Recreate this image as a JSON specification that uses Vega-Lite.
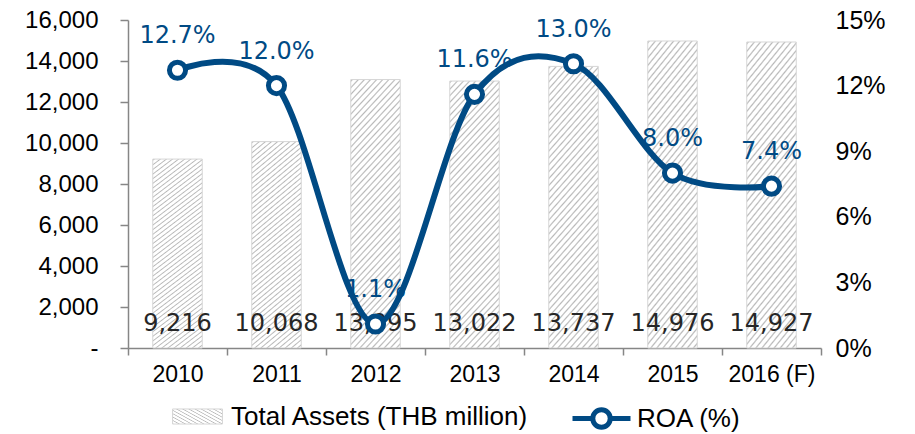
{
  "$schema": "https://vega.github.io/schema/vega-lite/v6.json",
  "width": 693,
  "height": 328,
  "autosize": {"type": "none"},
  "padding": {"left": 128, "top": 20, "right": 94, "bottom": 86},
  "background": "#ffffff",
  "config": {
    "view": {"stroke": null},
    "axis": {"labelFont": "Liberation Sans", "labelColor": "#000000", "grid": false, "title": null},
    "legend": {"labelFont": "Liberation Sans", "labelLimit": 400}
  },
  "data": {
    "values": [
      {"year": "2010", "assets": 9216, "roa": 0.127},
      {"year": "2011", "assets": 10068, "roa": 0.120},
      {"year": "2012", "assets": 13095, "roa": 0.011},
      {"year": "2013", "assets": 13022, "roa": 0.116},
      {"year": "2014", "assets": 13737, "roa": 0.130},
      {"year": "2015", "assets": 14976, "roa": 0.080},
      {"year": "2016 (F)", "assets": 14927, "roa": 0.074}
    ]
  },
  "encoding": {
    "x": {
      "field": "year", "type": "nominal", "sort": null,
      "scale": {"paddingInner": 0, "paddingOuter": 0},
      "axis": {"labelAngle": 0, "labelFontSize": 23, "domainColor": "#868686", "domainWidth": 1.5, "tickColor": "#868686", "tickWidth": 1.5, "tickSize": 7, "tickBand": "extent", "labelPadding": 8}
    }
  },
  "layer": [
    {
      "layer": [
        {
          "mark": {
            "type": "bar",
            "width": {"band": 0.5},
            "strokeWidth": 1,
            "fill": {
              "gradient": "linear", "x1": 0, "y1": 0, "x2": 0.235, "y2": 1.18,
              "stops": [
                {"offset": 0, "color": "#ffffff"}, {"offset": 0.005, "color": "#b8b8b8"}, {"offset": 0.01, "color": "#ffffff"},
                {"offset": 0.02, "color": "#ffffff"}, {"offset": 0.025, "color": "#b8b8b8"}, {"offset": 0.03, "color": "#ffffff"},
                {"offset": 0.04, "color": "#ffffff"}, {"offset": 0.045, "color": "#b8b8b8"}, {"offset": 0.05, "color": "#ffffff"},
                {"offset": 0.06, "color": "#ffffff"}, {"offset": 0.065, "color": "#b8b8b8"}, {"offset": 0.07, "color": "#ffffff"},
                {"offset": 0.08, "color": "#ffffff"}, {"offset": 0.085, "color": "#b8b8b8"}, {"offset": 0.09, "color": "#ffffff"},
                {"offset": 0.1, "color": "#ffffff"}, {"offset": 0.105, "color": "#b8b8b8"}, {"offset": 0.11, "color": "#ffffff"},
                {"offset": 0.12, "color": "#ffffff"}, {"offset": 0.125, "color": "#b8b8b8"}, {"offset": 0.13, "color": "#ffffff"},
                {"offset": 0.14, "color": "#ffffff"}, {"offset": 0.145, "color": "#b8b8b8"}, {"offset": 0.15, "color": "#ffffff"},
                {"offset": 0.16, "color": "#ffffff"}, {"offset": 0.165, "color": "#b8b8b8"}, {"offset": 0.17, "color": "#ffffff"},
                {"offset": 0.18, "color": "#ffffff"}, {"offset": 0.185, "color": "#b8b8b8"}, {"offset": 0.19, "color": "#ffffff"},
                {"offset": 0.2, "color": "#ffffff"}, {"offset": 0.205, "color": "#b8b8b8"}, {"offset": 0.21, "color": "#ffffff"},
                {"offset": 0.22, "color": "#ffffff"}, {"offset": 0.225, "color": "#b8b8b8"}, {"offset": 0.23, "color": "#ffffff"},
                {"offset": 0.24, "color": "#ffffff"}, {"offset": 0.245, "color": "#b8b8b8"}, {"offset": 0.25, "color": "#ffffff"},
                {"offset": 0.26, "color": "#ffffff"}, {"offset": 0.265, "color": "#b8b8b8"}, {"offset": 0.27, "color": "#ffffff"},
                {"offset": 0.28, "color": "#ffffff"}, {"offset": 0.285, "color": "#b8b8b8"}, {"offset": 0.29, "color": "#ffffff"},
                {"offset": 0.3, "color": "#ffffff"}, {"offset": 0.305, "color": "#b8b8b8"}, {"offset": 0.31, "color": "#ffffff"},
                {"offset": 0.32, "color": "#ffffff"}, {"offset": 0.325, "color": "#b8b8b8"}, {"offset": 0.33, "color": "#ffffff"},
                {"offset": 0.34, "color": "#ffffff"}, {"offset": 0.345, "color": "#b8b8b8"}, {"offset": 0.35, "color": "#ffffff"},
                {"offset": 0.36, "color": "#ffffff"}, {"offset": 0.365, "color": "#b8b8b8"}, {"offset": 0.37, "color": "#ffffff"},
                {"offset": 0.38, "color": "#ffffff"}, {"offset": 0.385, "color": "#b8b8b8"}, {"offset": 0.39, "color": "#ffffff"},
                {"offset": 0.4, "color": "#ffffff"}, {"offset": 0.405, "color": "#b8b8b8"}, {"offset": 0.41, "color": "#ffffff"},
                {"offset": 0.42, "color": "#ffffff"}, {"offset": 0.425, "color": "#b8b8b8"}, {"offset": 0.43, "color": "#ffffff"},
                {"offset": 0.44, "color": "#ffffff"}, {"offset": 0.445, "color": "#b8b8b8"}, {"offset": 0.45, "color": "#ffffff"},
                {"offset": 0.46, "color": "#ffffff"}, {"offset": 0.465, "color": "#b8b8b8"}, {"offset": 0.47, "color": "#ffffff"},
                {"offset": 0.48, "color": "#ffffff"}, {"offset": 0.485, "color": "#b8b8b8"}, {"offset": 0.49, "color": "#ffffff"},
                {"offset": 0.5, "color": "#ffffff"}, {"offset": 0.505, "color": "#b8b8b8"}, {"offset": 0.51, "color": "#ffffff"},
                {"offset": 0.52, "color": "#ffffff"}, {"offset": 0.525, "color": "#b8b8b8"}, {"offset": 0.53, "color": "#ffffff"},
                {"offset": 0.54, "color": "#ffffff"}, {"offset": 0.545, "color": "#b8b8b8"}, {"offset": 0.55, "color": "#ffffff"},
                {"offset": 0.56, "color": "#ffffff"}, {"offset": 0.565, "color": "#b8b8b8"}, {"offset": 0.57, "color": "#ffffff"},
                {"offset": 0.58, "color": "#ffffff"}, {"offset": 0.585, "color": "#b8b8b8"}, {"offset": 0.59, "color": "#ffffff"},
                {"offset": 0.6, "color": "#ffffff"}, {"offset": 0.605, "color": "#b8b8b8"}, {"offset": 0.61, "color": "#ffffff"},
                {"offset": 0.62, "color": "#ffffff"}, {"offset": 0.625, "color": "#b8b8b8"}, {"offset": 0.63, "color": "#ffffff"},
                {"offset": 0.64, "color": "#ffffff"}, {"offset": 0.645, "color": "#b8b8b8"}, {"offset": 0.65, "color": "#ffffff"},
                {"offset": 0.66, "color": "#ffffff"}, {"offset": 0.665, "color": "#b8b8b8"}, {"offset": 0.67, "color": "#ffffff"},
                {"offset": 0.68, "color": "#ffffff"}, {"offset": 0.685, "color": "#b8b8b8"}, {"offset": 0.69, "color": "#ffffff"},
                {"offset": 0.7, "color": "#ffffff"}, {"offset": 0.705, "color": "#b8b8b8"}, {"offset": 0.71, "color": "#ffffff"},
                {"offset": 0.72, "color": "#ffffff"}, {"offset": 0.725, "color": "#b8b8b8"}, {"offset": 0.73, "color": "#ffffff"},
                {"offset": 0.74, "color": "#ffffff"}, {"offset": 0.745, "color": "#b8b8b8"}, {"offset": 0.75, "color": "#ffffff"},
                {"offset": 0.76, "color": "#ffffff"}, {"offset": 0.765, "color": "#b8b8b8"}, {"offset": 0.77, "color": "#ffffff"},
                {"offset": 0.78, "color": "#ffffff"}, {"offset": 0.785, "color": "#b8b8b8"}, {"offset": 0.79, "color": "#ffffff"},
                {"offset": 0.8, "color": "#ffffff"}, {"offset": 0.805, "color": "#b8b8b8"}, {"offset": 0.81, "color": "#ffffff"},
                {"offset": 0.82, "color": "#ffffff"}, {"offset": 0.825, "color": "#b8b8b8"}, {"offset": 0.83, "color": "#ffffff"},
                {"offset": 0.84, "color": "#ffffff"}, {"offset": 0.845, "color": "#b8b8b8"}, {"offset": 0.85, "color": "#ffffff"},
                {"offset": 0.86, "color": "#ffffff"}, {"offset": 0.865, "color": "#b8b8b8"}, {"offset": 0.87, "color": "#ffffff"},
                {"offset": 0.88, "color": "#ffffff"}, {"offset": 0.885, "color": "#b8b8b8"}, {"offset": 0.89, "color": "#ffffff"},
                {"offset": 0.9, "color": "#ffffff"}, {"offset": 0.905, "color": "#b8b8b8"}, {"offset": 0.91, "color": "#ffffff"},
                {"offset": 0.92, "color": "#ffffff"}, {"offset": 0.925, "color": "#b8b8b8"}, {"offset": 0.93, "color": "#ffffff"},
                {"offset": 0.94, "color": "#ffffff"}, {"offset": 0.945, "color": "#b8b8b8"}, {"offset": 0.95, "color": "#ffffff"},
                {"offset": 0.96, "color": "#ffffff"}, {"offset": 0.965, "color": "#b8b8b8"}, {"offset": 0.97, "color": "#ffffff"},
                {"offset": 0.98, "color": "#ffffff"}, {"offset": 0.985, "color": "#b8b8b8"}, {"offset": 0.99, "color": "#ffffff"},
                {"offset": 1, "color": "#ffffff"}
              ]
            }
          },
          "encoding": {
            "y": {
              "field": "assets", "type": "quantitative", "scale": {"domain": [0, 16000]},
              "axis": {
                "orient": "left",
                "values": [0, 2000, 4000, 6000, 8000, 10000, 12000, 14000, 16000],
                "labelExpr": "datum.value == 0 ? '-' : format(datum.value, ',')",
                "labelFontSize": 24, "tickSize": 8, "labelPadding": 22,
                "domainColor": "#868686", "domainWidth": 1.5, "tickColor": "#868686", "tickWidth": 1.5
              }
            },
            "stroke": {
              "datum": "Total Assets (THB million)", "type": "nominal",
              "scale": {"domain": ["Total Assets (THB million)"], "range": ["#d6d6d6"]},
              "legend": {
                "title": null, "orient": "none", "direction": "horizontal",
                "legendX": 40, "legendY": 367,
                "labelFontSize": 26, "labelColor": "#000000", "labelOffset": 4,
                "symbolType": "M-0.86,-0.26H0.86V0.26H-0.86Z",
                "symbolSize": 3364, "symbolStrokeWidth": 1, "symbolOpacity": 1, "padding": 0
              }
            }
          }
        },
        {
          "mark": {"type": "text", "font": "DejaVu Sans", "fontSize": 24, "color": "#262626", "baseline": "alphabetic", "dy": -17},
          "encoding": {
            "y": {
              "datum": 0, "type": "quantitative",
              "axis": {
                "orient": "left",
                "values": [0, 2000, 4000, 6000, 8000, 10000, 12000, 14000, 16000],
                "labelExpr": "datum.value == 0 ? '-' : format(datum.value, ',')",
                "labelFontSize": 24, "tickSize": 8, "labelPadding": 22,
                "domainColor": "#868686", "domainWidth": 1.5, "tickColor": "#868686", "tickWidth": 1.5
              }
            },
            "text": {"field": "assets", "type": "quantitative", "format": ","}
          }
        }
      ]
    },
    {
      "encoding": {
        "y": {
          "field": "roa", "type": "quantitative", "scale": {"domain": [0, 0.15]},
          "axis": {
            "orient": "right", "values": [0, 0.03, 0.06, 0.09, 0.12, 0.15], "format": ".0%",
            "domain": false, "ticks": false, "labelPadding": 14, "labelFontSize": 25
          }
        }
      },
      "layer": [
        {
          "mark": {"type": "text", "font": "DejaVu Sans", "fontSize": 24, "color": "#004a84", "baseline": "middle", "dy": -34},
          "encoding": {
            "text": {"field": "roa", "type": "quantitative", "format": ".1%"}
          }
        },
        {
          "mark": {"type": "line", "interpolate": "cardinal", "strokeWidth": 6, "stroke": "#004a84"},
          "encoding": {}
        },
        {
          "mark": {"type": "point", "filled": true, "stroke": "#004a84", "size": 260, "strokeWidth": 5, "opacity": 1},
          "encoding": {
            "fill": {
              "datum": "ROA (%)", "type": "nominal",
              "scale": {"domain": ["ROA (%)"], "range": ["#ffffff"]},
              "legend": {
                "title": null, "orient": "none", "direction": "horizontal",
                "legendX": 442, "legendY": 367,
                "labelFontSize": 26, "labelColor": "#000000", "labelOffset": 4,
                "symbolType": "M-1,0L-0.3,0M0.3,0L1,0M-0.3,0A0.3,0.3 0 1 0 0.3,0A0.3,0.3 0 1 0 -0.3,0",
                "symbolSize": 3364, "symbolStrokeColor": "#004a84", "symbolStrokeWidth": 5,
                "symbolOpacity": 1, "padding": 0
              }
            }
          }
        }
      ]
    }
  ],
  "resolve": {"scale": {"y": "independent"}}
}
